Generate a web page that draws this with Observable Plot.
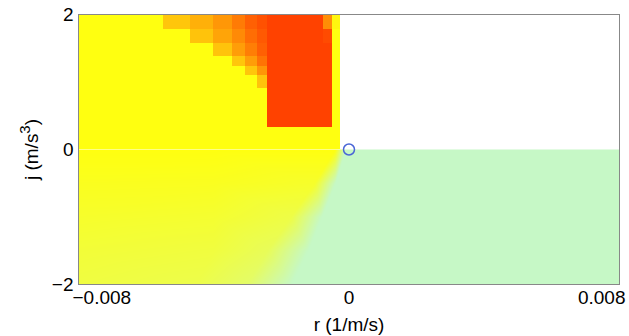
<!DOCTYPE html>
<html>
<head>
<meta charset="utf-8">
<script src="https://cdn.jsdelivr.net/npm/d3@7"></script>
<script src="https://cdn.jsdelivr.net/npm/@observablehq/plot@0.6"></script>
<style>
  html, body { margin: 0; padding: 0; background: #fff; }
  #chart svg { display: block; }
</style>
</head>
<body>
<div id="chart"></div>
<script>
// ---- Axis ticks ----
const rTicks = [-0.008, 0, 0.008];
const jTicks = [-2, 0, 2];

// ---- Upper half (j > 0): grid of cells, value 0 = yellow ... 1 = red ----
const upperREdges = [-0.008, -0.0055, -0.00469, -0.00401, -0.00345, -0.00306, -0.00271, -0.00241, -0.00075, -0.00049, -0.00025];
const upperJEdges = [2, 1.785, 1.563, 1.385, 1.237, 1.089, 0.911, 0.333, 0];
const upperValues = [
  [0, 0.30, 0.42, 0.55, 0.70, 0.84, 0.92, 1, 0.6, 0.05],
  [0, 0,    0.32, 0.48, 0.62, 0.77, 0.88, 1, 0.95, 0],
  [0, 0,    0,    0.32, 0.52, 0.68, 0.84, 1, 1, 0],
  [0, 0,    0,    0,    0.30, 0.52, 0.74, 1, 1, 0],
  [0, 0,    0,    0,    0,    0.30, 0.56, 1, 1, 0],
  [0, 0,    0,    0,    0,    0,    0.32, 1, 1, 0],
  [0, 0,    0,    0,    0,    0,    0,    1, 1, 0],
  [0, 0,    0,    0,    0,    0,    0,    0, 0, 0]
];

// ---- Lower half (j < 0): sampled values, -1 = light green ... 0 = yellow ----
const lowerR = [
  -0.008, -0.004, -0.0004, -0.0001, 0.008,
  -0.008, -0.004, -0.0010, -0.0004, 0.008,
  -0.008, -0.004, -0.0017, -0.0008, 0.008,
  -0.008, -0.004, -0.0024, -0.0012, 0.008,
  -0.008, -0.0045, -0.0030, -0.0017, 0.008
];
const lowerJ = [
  0, 0, 0, 0, 0,
  -0.5, -0.5, -0.5, -0.5, -0.5,
  -1, -1, -1, -1, -1,
  -1.5, -1.5, -1.5, -1.5, -1.5,
  -2, -2, -2, -2, -2
];
const lowerV = [
  0, 0, 0, -1, -1,
  -0.08, -0.09, -0.15, -1, -1,
  -0.15, -0.18, -0.3, -1, -1,
  -0.22, -0.26, -0.4, -1, -1,
  -0.27, -0.32, -0.48, -1, -1
];

// ---- Marker ----
const markerR = [0];
const markerJ = [0];

// Build tables for Plot
const upperCells = [];
upperValues.forEach((row, i) => row.forEach((v, c) => {
  upperCells.push({r1: upperREdges[c], r2: upperREdges[c + 1], j1: upperJEdges[i + 1], j2: upperJEdges[i], v});
}));
const lowerSamples = lowerR.map((r, i) => ({r, j: lowerJ[i], v: lowerV[i]}));
const markers = markerR.map((r, i) => ({r, j: markerJ[i]}));

const fmt = d3.format("~g");

const chart = Plot.plot({
  width: 629,
  height: 336,
  marginLeft: 78,
  marginRight: 10,
  marginTop: 14,
  marginBottom: 52,
  style: {fontFamily: "'Liberation Sans', Arial, Helvetica, sans-serif", fontSize: "20px", color: "#000", background: "#fff"},
  x: {domain: [-0.008, 0.008]},
  y: {domain: [-2, 2]},
  color: {type: "linear", domain: [-1, 0, 1], range: ["#c6f8c6", "#ffff10", "#ff4200"], interpolate: "rgb"},
  marks: [
    Plot.raster(lowerSamples, {x: "r", y: "j", fill: "v", interpolate: "barycentric", x1: -0.008, x2: 0.008, y1: -2, y2: 0}),
    Plot.rect(upperCells, {x1: "r1", x2: "r2", y1: "j1", y2: "j2", fill: "v", shapeRendering: "crispEdges"}),
    Plot.frame({stroke: "#888"}),
    Plot.dot(markers, {x: "r", y: "j", r: 5.5, stroke: "#4a66d6", strokeWidth: 1.5, fill: "none"}),
    Plot.axisX([rTicks[0]], {tickSize: 0, tickPadding: 6, textAnchor: "start", dx: -6, fontSize: 19, tickFormat: fmt, label: null}),
    Plot.axisX([rTicks[1]], {tickSize: 0, tickPadding: 6, fontSize: 19, tickFormat: fmt, label: null}),
    Plot.axisX([rTicks[2]], {tickSize: 0, tickPadding: 6, textAnchor: "end", dx: 6, fontSize: 19, tickFormat: fmt, label: "r (1/m/s)", labelAnchor: "center", labelArrow: "none", labelOffset: 46}),
    Plot.axisY(jTicks, {tickSize: 0, tickPadding: 5, fontSize: 19, tickFormat: fmt, label: "j (m/s³)", labelAnchor: "center", labelArrow: "none", labelOffset: 54})
  ]
});
document.getElementById("chart").appendChild(chart);

// superscript on the y label
d3.select(chart).selectAll("text").each(function() {
  const t = d3.select(this);
  if (t.text() === "j (m/s³)") {
    t.text(null);
    t.append("tspan").text("j (m/s");
    t.append("tspan").attr("baseline-shift", "super").attr("font-size", "15px").text("3");
    t.append("tspan").text(")");
  }
});
</script>
</body>
</html>
